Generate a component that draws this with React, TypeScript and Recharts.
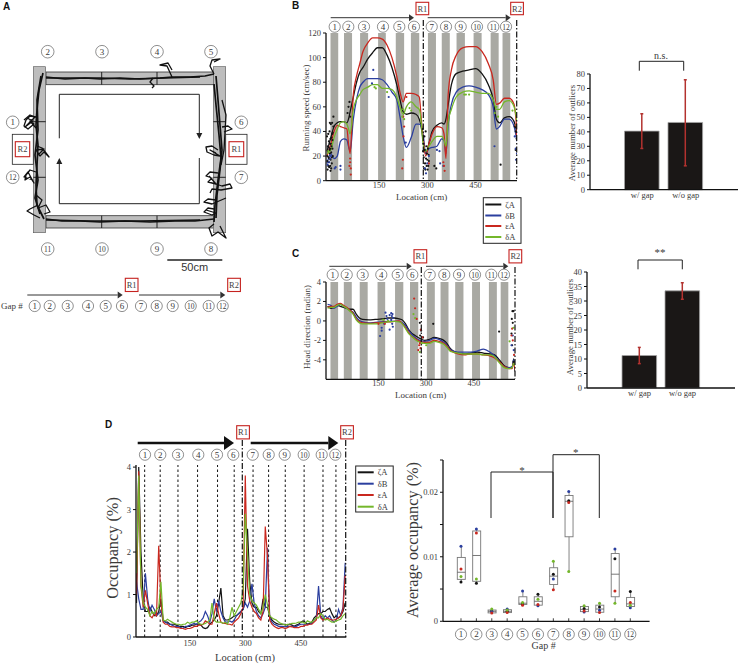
import { ComposedChart, BarChart, Bar, Line, Scatter, XAxis, YAxis, ReferenceArea, ReferenceLine, ErrorBar } from 'recharts'

const BLACK = '#141414'
const BLUE = '#2b3f9f'
const RED = '#c9281f'
const GREEN = '#74b72b'
const BAND = '#a9a9a3'
const SERIF = '"Liberation Serif", serif'
const TXT = '#3a3a3a'

// gray gap bands in cm
const bandStart = [-1, 41, 91, 147, 202, 249, 302, 345, 391, 444, 497, 534]
const bandEnd = [23, 66, 116, 171, 228, 275, 327, 370, 417, 469, 522, 558]
const locTicks = [150, 300, 450]

// panel B running speed
const speedLoc = [-12, 0, 10, 20, 30, 40, 50, 55, 60, 70, 80, 90, 100, 115, 130, 145, 160, 175, 190, 205, 215, 225, 235, 250, 265, 275, 282, 287, 295, 305, 315, 330, 345, 352, 358, 365, 375, 390, 410, 430, 450, 470, 490, 505, 515, 525, 540, 555, 570, 579]
const speedZeta = [24, 35, 44, 47, 48, 48, 47, 50, 56, 68, 80, 88, 92, 99, 104, 108, 108, 102, 92, 78, 66, 56, 54, 55, 54, 50, 42, 33, 22, 30, 40, 45, 47, 46, 50, 62, 78, 87, 89, 90, 91, 87, 78, 66, 50, 47, 51, 52, 48, 38]
const speedDeltaB = [14, 22, 18, 20, 32, 34, 33, 28, 24, 50, 66, 76, 80, 83, 83, 83, 82, 78, 72, 66, 52, 36, 27, 35, 46, 46, 44, 38, 22, 26, 27, 28, 34, 33, 22, 46, 62, 72, 76, 77, 76, 74, 70, 60, 42, 44, 50, 50, 44, 32]
const speedEps = [20, 30, 40, 45, 44, 43, 42, 30, 22, 70, 85, 95, 105, 112, 116, 116, 115, 110, 100, 85, 72, 64, 71, 71, 70, 68, 48, 35, 20, 30, 38, 44, 43, 38, 18, 70, 90, 102, 108, 109, 109, 105, 95, 82, 62, 63, 67, 67, 62, 40]
const speedDeltaA = [22, 25, 35, 42, 47, 48, 46, 42, 38, 58, 66, 70, 74, 76, 78, 78, 75, 75, 74, 68, 60, 54, 60, 64, 60, 58, 45, 30, 24, 28, 32, 36, 36, 33, 28, 48, 58, 68, 72, 73, 72, 71, 71, 66, 58, 58, 64, 65, 60, 48]

const speedOutBlack = [[-10, 9], [-8, 12], [-6, 15], [-5, 18], [-3, 22], [-2, 26], [0, 30], [2, 35], [4, 38], [-9, 28], [-6, 32], [-4, 40], [0, 46], [4, 47], [8, 52], [8, 44], [-2, 12], [1, 10], [3, 14], [6, 20], [-1, 8], [5, 26], [-11, 16], [-11, 20], [-9, 24], [-7, 19], [-7, 27], [-5, 11], [-4, 25], [-3, 30], [-1, 17], [-1, 34], [1, 23], [2, 28], [3, 19], [5, 33], [-12, 36], [-8, 38], [-3, 47], [6, 39], [55, 60], [52, 55], [58, 64], [60, 52], [290, 10], [293, 14], [296, 18], [299, 22], [302, 26], [288, 30], [291, 36], [295, 40], [298, 12], [301, 9], [305, 16], [286, 42], [289, 19], [292, 25], [294, 9], [297, 28], [300, 17], [303, 12], [287, 24], [304, 21], [322, 12], [328, 10], [575, 40], [578, 34], [572, 44], [528, 13], [575, 25]]
const speedOutBlue = [[-10, 13], [-5, 15], [-2, 18], [0, 20], [30, 12], [30, 9], [15, 11], [12, 10], [132, 90], [128, 79], [180, 68], [233, 31], [296, 6], [293, 10], [300, 14], [305, 20], [330, 25], [338, 24], [350, 12], [340, 14], [509, 28], [572, 36], [575, 26], [576, 17], [579, 22]]
const speedOutRed = [[60, 18], [60, 15], [58, 12], [62, 10], [62, 5], [225, 52], [228, 44], [226, 36], [224, 17], [222, 10], [235, 68], [305, 14], [352, 12], [350, 15], [354, 8], [575, 45], [578, 38]]
const speedOutGreen = [[-8, 24], [222, 52], [228, 50], [225, 58], [245, 59], [250, 57], [415, 70], [420, 70], [430, 70], [136, 76], [140, 75], [175, 72], [515, 60], [510, 55], [520, 52], [565, 57], [578, 45]]

// panel C head direction
const headLoc = [-10, 0, 10, 20, 30, 40, 50, 60, 70, 80, 90, 100, 120, 140, 160, 180, 200, 215, 225, 235, 245, 255, 265, 280, 295, 310, 325, 340, 355, 365, 375, 385, 400, 420, 440, 460, 480, 500, 515, 530, 545, 560, 570, 575, 579]
const headZeta = [1.5, 1.3, 1.4, 1.6, 1.5, 1.4, 1.3, 1.2, 1.2, 0.7, 0.3, 0.15, 0.1, 0.15, 0.2, 0.3, 0.3, 0.2, 0.1, -0.3, -0.9, -1.3, -1.5, -1.8, -2, -1.9, -1.7, -1.8, -2, -2.3, -2.8, -3.1, -3.3, -3.4, -3.3, -3.2, -3.3, -3.4, -3.5, -4, -4.6, -4.8, -4.8, -3.9, -5.2]
const headDeltaB = [1.7, 1.6, 1.3, 1.5, 1.7, 1.5, 1.3, 1.1, 0.9, 0.4, 0.05, -0.1, -0.2, -0.15, -0.1, -0.05, -0.05, -0.05, -0.2, -0.5, -1, -1.4, -1.7, -2, -2.1, -2, -1.8, -1.9, -2.2, -2.5, -2.9, -3.1, -3.2, -3.2, -3.2, -3.1, -2.9, -3.2, -3.6, -4.2, -4.7, -4.8, -4.7, -4, -4.6]
const headEps = [1.4, 1.5, 1.5, 1.7, 1.8, 1.6, 1.4, 1.1, 0.8, 0.2, -0.1, -0.2, -0.25, -0.2, -0.15, -0.1, -0.05, 0, -0.3, -0.7, -1.2, -1.6, -1.8, -2.1, -2.2, -2.2, -2, -2.1, -2.3, -2.6, -3, -3.2, -3.4, -3.5, -3.4, -3.4, -3.5, -3.6, -3.8, -4.2, -4.7, -4.9, -4.9, -4.2, -5]
const headDeltaA = [1.3, 1.4, 1.4, 1.6, 1.7, 1.5, 1.3, 1, 0.7, 0.1, -0.2, -0.3, -0.3, -0.3, -0.2, -0.1, -0.05, -0.1, -0.3, -0.8, -1.3, -1.6, -1.9, -2.2, -2.3, -2.3, -2.1, -2.2, -2.4, -2.7, -3.1, -3.2, -3.3, -3.4, -3.4, -3.4, -3.5, -3.5, -3.7, -4.3, -4.8, -4.9, -4.8, -4.3, -4.6]

const headOutBlack = [[280, -0.2], [322, -0.3], [284, -1], [281, -1.5], [290, -1.7], [529, -1.1], [571, 1], [574, 1], [569, 0.2], [572, -0.2], [568, -1.3], [570, -2.5], [575, -4.2]]
const headOutBlue = [[172, 0.85], [175, 0.5], [178, 0.2], [185, 0.6], [190, 0.8], [192, 0.5], [194, 0.7], [196, 0.3], [190, 0.1], [193, -0.3], [195, -0.6], [185, -0.9], [160, -0.7], [155, -1.55], [168, -0.3], [160, -1], [575, -3], [572, -1.5], [568, -2.5]]
const headOutRed = [[283, -0.9], [288, -1.7], [280, -2.3], [282, -2.8], [275, -3], [278, -2.5], [570, -0.8], [568, -1.5], [572, -2], [576, -3.5], [170, -0.3], [150, -0.3], [262, 2.3], [265, 1.3], [270, 0.2]]
const headOutGreen = [[260, 0.7], [265, 0.3], [280, -3.2], [286, -2.3], [300, -2.5], [562, -2.1], [574, -0.7], [165, 0.1], [180, 0]]

// panel D occupancy, one value every 6 cm from 6 cm
const occBlack = [
  0.8, 4.0, 2.0, 0.9, 0.6, 0.6, 0.7, 0.6, 0.5, 0.5,
  0.6, 0.9, 0.4, 0.35, 0.35, 0.3, 0.3, 0.3, 0.28, 0.25,
  0.25, 0.25, 0.22, 0.25, 0.25, 0.28, 0.28, 0.3, 0.3, 0.28,
  0.22, 0.2, 0.22, 0.3, 0.35, 0.4, 0.5, 0.8, 1.15, 0.5,
  0.4, 0.4, 0.42, 0.45, 0.5, 0.5, 0.55, 0.6, 0.65, 0.9,
  2.55, 1.3, 0.8, 0.7, 0.7, 0.6, 0.55, 0.9, 0.7, 0.7,
  0.5, 0.4, 0.35, 0.32, 0.3, 0.3, 0.3, 0.3, 0.28, 0.3,
  0.28, 0.25, 0.28, 0.3, 0.35, 0.38, 0.35, 0.3, 0.32, 0.35,
  0.45, 0.5, 0.55, 0.55, 0.6, 0.6, 0.65, 0.68, 0.55, 0.45,
  0.5, 0.45, 0.5, 0.6, 0.8,
]
const occDeltaB = [
  1.3, 0.9, 0.65, 0.65, 1.5, 0.9, 0.6, 0.75, 0.65, 0.5,
  0.55, 0.6, 0.38, 0.35, 0.32, 0.3, 0.28, 0.25, 0.25, 0.25,
  0.22, 0.2, 0.25, 0.25, 0.28, 0.3, 0.32, 0.3, 0.35, 0.38,
  0.45, 0.6, 0.5, 0.35, 0.55, 0.9, 0.6, 0.85, 0.6, 0.45,
  0.35, 0.35, 0.38, 0.35, 0.4, 0.5, 0.55, 0.6, 0.65, 0.8,
  0.7, 0.85, 1.25, 0.8, 0.6, 0.5, 0.45, 0.55, 0.7, 2.1,
  0.45, 0.35, 0.3, 0.28, 0.25, 0.25, 0.25, 0.24, 0.25, 0.25,
  0.25, 0.25, 0.25, 0.28, 0.3, 0.3, 0.3, 0.3, 0.3, 0.32,
  0.4, 0.45, 1.2, 0.5, 0.42, 0.5, 0.45, 0.5, 0.4, 0.35,
  0.4, 0.65, 0.5, 0.7, 1.75,
]
const occEps = [
  1.0, 3.9, 1.2, 0.7, 1.1, 0.8, 0.5, 0.45, 0.55, 0.5,
  2.15, 0.8, 0.35, 0.3, 0.3, 0.25, 0.24, 0.24, 0.22, 0.22,
  0.2, 0.2, 0.18, 0.2, 0.2, 0.22, 0.25, 0.25, 0.28, 0.28,
  0.3, 0.38, 0.35, 0.3, 0.3, 0.55, 0.8, 0.55, 0.35, 0.32,
  0.32, 0.3, 0.3, 0.28, 0.35, 0.4, 0.45, 0.55, 0.7, 3.8,
  1.2, 0.85, 0.7, 0.6, 0.55, 0.45, 0.4, 0.6, 2.6, 1.9,
  0.4, 0.3, 0.25, 0.22, 0.2, 0.22, 0.22, 0.2, 0.22, 0.25,
  0.24, 0.22, 0.22, 0.22, 0.25, 0.25, 0.28, 0.28, 0.3, 0.3,
  0.35, 0.4, 0.75, 0.45, 0.4, 0.42, 0.45, 0.42, 0.4, 0.4,
  0.42, 0.45, 0.5, 0.65, 1.45,
]
const occDeltaA = [
  1.5, 3.8, 1.25, 0.8, 0.7, 0.65, 0.5, 0.6, 0.55, 0.65,
  0.7, 1.3, 0.4, 0.38, 0.42, 0.38, 0.35, 0.32, 0.3, 0.3,
  0.28, 0.3, 0.3, 0.35, 0.32, 0.35, 0.35, 0.38, 0.32, 0.3,
  0.3, 0.32, 0.35, 0.4, 0.8, 0.4, 0.35, 0.35, 0.35, 0.32,
  0.35, 0.3, 0.45, 0.7, 0.5, 0.6, 0.7, 0.8, 1.1, 2.9,
  2.0, 1.0, 0.85, 0.8, 0.75, 0.65, 0.55, 0.7, 1.0, 0.75,
  0.5, 0.45, 0.42, 0.4, 0.35, 0.32, 0.3, 0.28, 0.3, 0.3,
  0.32, 0.32, 0.33, 0.35, 0.35, 0.35, 0.32, 0.38, 0.35, 0.35,
  0.4, 0.45, 0.45, 0.55, 0.5, 0.4, 0.42, 0.38, 0.35, 0.35,
  0.38, 0.4, 0.42, 0.5, 0.55,
]
const occLines = [28, 70, 118, 171, 225, 270, 321, 363, 408, 459, 510, 545]

// outlier bars
const barLabels = ['w/ gap', 'w/o gap']
const speedBars = [40.5, 46.5]
const speedErrLow = [12, 30]
const speedErrHigh = [12, 29.5]
const headBars = [11.2, 33.5]
const headErrLow = [2.8, 2.9]
const headErrHigh = [2.8, 2.8]

// average occupancy per gap
const gaps = ['1', '2', '3', '4', '5', '6', '7', '8', '9', '10', '11', '12']
const avgZeta = [0.0061, 0.0059, 0.0016, 0.00155, 0.0027, 0.0042, 0.0073, 0.0187, 0.002, 0.0022, 0.0097, 0.0046]
const avgDeltaB = [0.01165, 0.0143, 0.0015, 0.0019, 0.0047, 0.0024, 0.00655, 0.0201, 0.00145, 0.0017, 0.0112, 0.0021]
const avgEps = [0.0081, 0.0137, 0.0013, 0.00135, 0.0025, 0.0026, 0.0049, 0.0184, 0.0016, 0.00135, 0.0047, 0.0029]
const avgDeltaA = [0.00696, 0.00655, 0.0019, 0.00175, 0.0029, 0.0034, 0.0093, 0.0077, 0.0024, 0.0028, 0.0028, 0.0025]
const boxLow = [0.0065, 0.0062, 0.0013, 0.00135, 0.0026, 0.0025, 0.0057, 0.0131, 0.0015, 0.0014, 0.0038, 0.0023]
const boxHigh = [0.0099, 0.014, 0.00175, 0.0018, 0.0038, 0.0038, 0.0083, 0.0195, 0.0023, 0.0025, 0.0105, 0.0037]
const boxMid = [0.0076, 0.0102, 0.00155, 0.00155, 0.0028, 0.0031, 0.007, 0.0186, 0.00185, 0.0019, 0.0073, 0.0027]

const series = [
  { key: 'zeta', label: 'ζA', color: BLACK },
  { key: 'deltaB', label: 'δB', color: BLUE },
  { key: 'eps', label: 'εA', color: RED },
  { key: 'deltaA', label: 'δA', color: GREEN },
]

const toRows = (loc: number[], a: number[], b: number[], c: number[], d: number[]) =>
  loc.map((l, i) => ({ loc: l, zeta: a[i], deltaB: b[i], eps: c[i], deltaA: d[i] }))
const toPts = (pts: number[][]) => pts.map(([loc, y]) => ({ loc, y }))

const speedRows = toRows(speedLoc, speedZeta, speedDeltaB, speedEps, speedDeltaA)
const headRows = toRows(headLoc, headZeta, headDeltaB, headEps, headDeltaA)
const occRows = occBlack.map((_, i) => ({ loc: 6 + i * 6, zeta: occBlack[i], deltaB: occDeltaB[i], eps: occEps[i], deltaA: occDeltaA[i] }))
const speedBarRows = barLabels.map((name, i) => ({ name, value: speedBars[i], err: [speedErrLow[i], speedErrHigh[i]] }))
const headBarRows = barLabels.map((name, i) => ({ name, value: headBars[i], err: [headErrLow[i], headErrHigh[i]] }))
const boxRows = gaps.map((gap, i) => ({
  gap,
  zeta: avgZeta[i],
  deltaB: avgDeltaB[i],
  eps: avgEps[i],
  deltaA: avgDeltaA[i],
  low: boxLow[i],
  high: boxHigh[i],
  mid: boxMid[i],
  min: Math.min(avgZeta[i], avgDeltaB[i], avgEps[i], avgDeltaA[i]),
  max: Math.max(avgZeta[i], avgDeltaB[i], avgEps[i], avgDeltaA[i]),
}))

const tickStyle = { fontSize: 8.5, fontFamily: SERIF, fill: TXT }
const axisLine = { stroke: '#111', strokeWidth: 1.3 }

const smallDot = (color: string) => (p: any) => <circle cx={p.cx} cy={p.cy} r={1.1} fill={color} />

function Place({ left, top, children }: any) {
  return <div style={{ position: 'absolute', left, top }}>{children}</div>
}

function LocationChart({ rows, outliers, yDomain, yTicks, width, height }: any) {
  return (
    <ComposedChart width={width} height={height} data={rows} margin={{ top: 10, right: 2, bottom: 0, left: 0 }}>
      <XAxis type="number" dataKey="loc" domain={[-15, 579]} ticks={locTicks} allowDataOverflow height={20} tick={tickStyle} tickLine={false} tickSize={0} tickMargin={1} axisLine={axisLine} />
      <YAxis type="number" dataKey="y" domain={yDomain} ticks={yTicks} width={30} allowDataOverflow tick={tickStyle} tickSize={3} tickMargin={2} tickLine={{ stroke: '#111' }} axisLine={axisLine} interval={0} />
      {bandStart.map((s, i) => (
        <ReferenceArea key={i} x1={s} x2={bandEnd[i]} fill={BAND} fillOpacity={1} stroke="none" />
      ))}
      {series.map(s => (
        <Line key={s.key} dataKey={s.key} stroke={s.color} strokeWidth={1.3} dot={false} type="monotone" isAnimationActive={false} />
      ))}
      {series.map((s, i) => (
        <Scatter key={s.key} data={toPts(outliers[i])} fill={s.color} shape={smallDot(s.color)} isAnimationActive={false} />
      ))}
    </ComposedChart>
  )
}

function OutlierBars({ rows, domain, ticks, pad, height }: any) {
  return (
    <BarChart width={180} height={height} data={rows} margin={{ top: 10, right: 2, bottom: 0, left: 0 }}>
      <XAxis dataKey="name" height={20} padding={{ left: pad, right: pad }} tick={tickStyle} tickLine={false} tickSize={0} tickMargin={2} axisLine={axisLine} />
      <YAxis type="number" domain={domain} ticks={ticks} width={30} interval={0} tick={tickStyle} tickSize={3} tickMargin={2} tickLine={{ stroke: '#111' }} axisLine={axisLine} />
      <Bar dataKey="value" fill="#1a1716" stroke="#a5a5a5" strokeWidth={0.8} barSize={34.6} isAnimationActive={false}>
        <ErrorBar dataKey="err" direction="y" width={1.5} stroke="#b3322f" strokeWidth={1.5} />
      </Bar>
    </BarChart>
  )
}

function BoxShape(p: any) {
  const d = p.payload
  const perUnit = p.height / (d.high - d.low)
  const yAt = (v: number) => p.y + (d.high - v) * perUnit
  const cx = p.x + p.width / 2
  return (
    <g>
      <line x1={cx} x2={cx} y1={yAt(d.max)} y2={yAt(d.min)} stroke="#666" strokeWidth={0.8} />
      <rect x={p.x} y={p.y} width={p.width} height={p.height} fill="#fff" stroke="#777" strokeWidth={0.9} />
      <line x1={p.x} x2={p.x + p.width} y1={yAt(d.mid)} y2={yAt(d.mid)} stroke="#555" strokeWidth={0.8} />
    </g>
  )
}

function GapTick({ x, y, payload }: any) {
  return (
    <g>
      <line x1={x} x2={x} y1={y - 3} y2={y} stroke="#111" strokeWidth={0.8} />
      <Circled x={x} y={y + 13} n={payload.value} />
    </g>
  )
}

function Circled({ x, y, n, r = 5.6 }: any) {
  return (
    <g>
      <circle cx={x} cy={y} r={r} fill="#fff" stroke="#444" strokeWidth={0.6} />
      <text x={x} y={y + 3} textAnchor="middle" fontSize={n > 9 ? 7.5 : 9} fontFamily={SERIF} fill={TXT}>{n}</text>
    </g>
  )
}

function RedBox({ x, y, w = 12.7, h = 13.2, label }: any) {
  return (
    <g>
      <rect x={x} y={y} width={w} height={h} fill="#fff" stroke="#c5221f" strokeWidth={1.1} />
      <text x={x + w / 2} y={y + h / 2 + 3} textAnchor="middle" fontSize={8.5} fontFamily={SERIF} fill="#444">{label}</text>
    </g>
  )
}

function Arrow({ x1, x2, y, sw = 1, head = 5, color = '#333' }: any) {
  return (
    <g>
      <line x1={x1} x2={x2 - head} y1={y} y2={y} stroke={color} strokeWidth={sw} />
      <polygon points={`${x2 - head},${y - head * 0.7} ${x2},${y} ${x2 - head},${y + head * 0.7}`} fill={color} />
    </g>
  )
}

function Sideways({ x, y, size, children }: any) {
  return (
    <text x={x} y={y} textAnchor="middle" fontSize={size} fontFamily={SERIF} fill={TXT} transform={`rotate(-90 ${x} ${y})`}>
      {children}
    </text>
  )
}

function Caption({ x, y, size = 9, children }: any) {
  return <text x={x} y={y} textAnchor="middle" fontSize={size} fontFamily={SERIF} fill={TXT}>{children}</text>
}

function Letter({ x, y, children }: any) {
  return <text x={x} y={y} fontSize={10} fontWeight="bold" fontFamily='"Liberation Sans", sans-serif' fill="#111">{children}</text>
}

function LegendBox({ x, y, w, h, rows }: any) {
  return (
    <g>
      <rect x={x} y={y} width={w} height={h} fill="#fff" stroke="#222" strokeWidth={1} />
      {series.map((s, i) => (
        <g key={s.key}>
          <line x1={x + 2} x2={x + 18} y1={rows[i]} y2={rows[i]} stroke={s.color} strokeWidth={2} />
          <text x={x + 22} y={rows[i] + 3} fontSize={8.5} fontFamily={SERIF} fill={TXT}>{s.label}</text>
        </g>
      ))}
    </g>
  )
}

function Bracket({ x1, x2, top, bottom, bottom2 }: any) {
  return (
    <path d={`M${x1},${bottom} V${top} H${x2} V${bottom2 ?? bottom}`} fill="none" stroke="#222" strokeWidth={1} />
  )
}

// corridor ticks and rat trajectories in panel A
const trajectories = [
  'M46,77 L65,79 L85,78 L100,79 L120,78 L140,79 L160,78 L172,77 L190,77 L205,76 L214,74',
  'M46,78 L70,78 L100,78 L130,79 L165,78 L200,77',
  'M46,219 L62,221 L80,221 L100,222 L125,221 L150,222 L175,221 L195,221 L214,219',
  'M46,220 L90,221 L140,221 L200,220',
  'M43,73 L39,90 L37,110 L36,125 L38,145 L37,165 L36,185 L37,205 L44,219',
  'M41,76 L37,100 L38,130 L35,155 L38,180 L35,198 L40,214',
  'M216,76 L218,100 L220,125 L222,150 L220,170 L217,195 L216,218',
  'M214,84 L216,105 L219,135 L221,158 L218,180 L215,205 L214,222',
  'M36,117 L30,116 L26,120 L24,126 L28,129 L34,124 L30,121 L36,128',
  'M24,120 L30,115 L35,117 L30,122 L25,127 L33,121 L27,118',
  'M37,146 L42,148 L46,153 L49,157 L44,152 L40,156 L36,150 L44,149 L38,155',
  'M36,172 L30,170 L26,175 L25,180 L30,177 L34,183 L28,172 L24,177 L33,180',
  'M36,195 L42,200 L38,208 L46,205 L50,212 L44,214',
  'M38,205 L30,209 L27,211 L34,215 L40,218',
  'M222,127 L228,126 L232,129 L224,132',
  'M218,150 L212,146 L206,147 L207,152 L214,155 L220,156 L210,150 L216,153',
  'M218,173 L210,172 L206,176 L212,178 L208,182 L216,184 L209,176',
  'M216,184 L222,186 L230,184 L232,188 L221,190 L212,189 L210,193',
  'M216,200 L208,199 L204,202 L212,204 L226,198',
  'M214,209 L208,208 L204,212 L212,215 L216,213 L206,210',
  'M214,224 L209,228 L212,236 L218,232 L226,238 L220,226',
  'M214,74 L210,66 L212,60 L220,59 L214,62',
  'M172,77 L167,66 L160,65 L168,63 L172,70',
  'M153,78 L150,82 L154,86 L152,88',
  'M222,100 L226,115 L224,150 L221,165',
]
const tickXs = [101.7, 157]
const tickYs = [121.7, 177.3]
const mazeTop = [[2, 47.7], [3, 102], [4, 157], [5, 211]]
const mazeBottom = [[11, 47.7], [10, 102], [9, 157], [8, 211]]
const mazeLeft = [[1, 122.3], [12, 177.3]]
const mazeRight = [[6, 122.3], [7, 177.3]]
const gapRowX = [34.7, 49.7, 67.7, 88, 105.7, 122, 141, 156.7, 172.7, 190.7, 208.7, 222.7]
const speedRowX = [334.7, 348.3, 364, 383, 399.3, 414, 431.7, 446, 460.7, 477, 493.3, 506]
const headRowX = [332.7, 346.7, 362.7, 381.3, 397.7, 412.3, 429.7, 444.3, 459, 475, 491.3, 504]
const occRowX = [145, 160.3, 178, 198.3, 217, 233.3, 252.7, 268.7, 284.7, 303.7, 321.7, 335.3]

function Overlay() {
  return (
    <svg width={739} height={664} style={{ position: 'absolute', left: 0, top: 0, pointerEvents: 'none' }}>
      <Letter x={3} y={10}>A</Letter>
      <Letter x={292} y={9}>B</Letter>
      <Letter x={292} y={257}>C</Letter>
      <Letter x={105} y={428}>D</Letter>

      {/* panel A maze */}
      <rect x={46} y={72} width={168} height={12.7} fill="#bdbdbd" stroke="#333" strokeWidth={0.8} />
      <rect x={46} y={215.7} width={168} height={12.3} fill="#bdbdbd" stroke="#333" strokeWidth={0.8} />
      <rect x={33.3} y={66.7} width={12.4} height={166} fill="#bdbdbd" stroke="#555" strokeWidth={0.6} />
      <rect x={213.3} y={66.7} width={12.4} height={166} fill="#bdbdbd" stroke="#555" strokeWidth={0.6} />
      {tickXs.map(x => (
        <g key={x}>
          <line x1={x} x2={x} y1={72} y2={84.7} stroke="#222" strokeWidth={1} />
          <line x1={x} x2={x} y1={215.7} y2={228} stroke="#222" strokeWidth={1} />
        </g>
      ))}
      {tickYs.map(y => (
        <g key={y}>
          <line x1={33.3} x2={45.7} y1={y} y2={y} stroke="#222" strokeWidth={1} />
          <line x1={213.3} x2={225.7} y1={y} y2={y} stroke="#222" strokeWidth={1} />
        </g>
      ))}
      {trajectories.map((d, i) => (
        <path key={i} d={d} fill="none" stroke="#111" strokeWidth={i < 8 ? 1.7 : 1.3} strokeLinejoin="round" />
      ))}
      <rect x={12.3} y={134.3} width={21} height={30} fill="#fff" stroke="#222" strokeWidth={0.8} />
      <rect x={225.7} y={134.3} width={21.3} height={30} fill="#fff" stroke="#222" strokeWidth={0.8} />
      <RedBox x={15.3} y={141.7} w={14.4} h={15} label="R2" />
      <RedBox x={229} y={141.7} w={14.7} h={15} label="R1" />
      <path d="M59.3,138.3 V94.3 H199.3 V134" fill="none" stroke="#222" strokeWidth={1} />
      <polygon points="196.3,133 202.3,133 199.3,139" fill="#222" />
      <path d="M199.3,158 V203.7 H59.3 V163" fill="none" stroke="#222" strokeWidth={1} />
      <polygon points="56.3,164 62.3,164 59.3,158" fill="#222" />
      {mazeTop.map(([n, x]) => <Circled key={n} x={x} y={51.7} n={n} r={6.3} />)}
      {mazeBottom.map(([n, x]) => <Circled key={n} x={x} y={249} n={n} r={6.3} />)}
      {mazeLeft.map(([n, y]) => <Circled key={n} x={12.7} y={y} n={n} r={6.3} />)}
      {mazeRight.map(([n, y]) => <Circled key={n} x={241.3} y={y} n={n} r={6.3} />)}
      <line x1={167.3} x2={222.3} y1={260} y2={260} stroke="#222" strokeWidth={1.4} />
      <text x={194.7} y={271} textAnchor="middle" fontSize={11} fontFamily='"Liberation Sans", sans-serif' fill="#333">50cm</text>
      <Arrow x1={27.3} x2={122.7} y={295} />
      <Arrow x1={139} x2={225.3} y={295} />
      <RedBox x={125.3} y={278.3} label="R1" />
      <RedBox x={227.7} y={278.3} label="R2" />
      <text x={1} y={309} fontSize={9} fontFamily={SERIF} fill={TXT}>Gap #</text>
      {gapRowX.map((x, i) => <Circled key={i} x={x} y={306} n={i + 1} />)}

      {/* panel B header */}
      <Arrow x1={330.7} x2={414} y={17.7} />
      <Arrow x1={427.7} x2={510.7} y={17.7} />
      <RedBox x={416} y={2.3} w={12.7} h={12.4} label="R1" />
      <RedBox x={510.7} y={2.3} w={12.7} h={12.4} label="R2" />
      {speedRowX.map((x, i) => <Circled key={i} x={x} y={26.7} n={i + 1} />)}
      <line x1={423.3} x2={423.3} y1={20} y2={181} stroke="#111" strokeWidth={1.2} strokeDasharray="6 2 1.5 2" />
      <line x1={516.7} x2={516.7} y1={20} y2={181} stroke="#111" strokeWidth={1.2} strokeDasharray="6 2 1.5 2" />
      <Sideways x={309} y={108} size={9}>Running speed (cm/sec)</Sideways>
      <Caption x={421.7} y={200}>Location (cm)</Caption>
      <LegendBox x={483.3} y={197.7} w={37.7} h={45.6} rows={[204.5, 215.5, 226, 237]} />

      {/* panel C header */}
      <Arrow x1={329.3} x2={411.7} y={266.3} />
      <Arrow x1={426} x2={508.3} y={266.3} />
      <RedBox x={414} y={249.7} label="R1" />
      <RedBox x={509} y={249.7} label="R2" />
      {headRowX.map((x, i) => <Circled key={i} x={x} y={274.7} n={i + 1} />)}
      <line x1={421.3} x2={421.3} y1={267} y2={379} stroke="#111" strokeWidth={1.2} strokeDasharray="6 2 1.5 2" />
      <line x1={515} x2={515} y1={267} y2={379} stroke="#111" strokeWidth={1.2} strokeDasharray="6 2 1.5 2" />
      <Sideways x={310} y={327} size={9}>Head direction (radian)</Sideways>
      <Caption x={420.7} y={398}>Location (cm)</Caption>

      {/* outlier bars annotations */}
      <Sideways x={575} y={133} size={8.8}>Average number of outliers</Sideways>
      <Caption x={661} y={59} size={10}>n.s.</Caption>
      <Bracket x1={639.3} x2={683.7} top={61.3} bottom={70.7} />
      <Sideways x={572.5} y={327} size={8.8}>Average number of outliers</Sideways>
      <Caption x={660} y={256} size={11}>**</Caption>
      <Bracket x1={638} x2={682.3} top={260} bottom={269.3} />

      {/* panel D left header */}
      <Arrow x1={137.7} x2={234} y={443} sw={2.6} head={10} color="#111" />
      <Arrow x1={250.7} x2={338.3} y={443} sw={2.6} head={10} color="#111" />
      <RedBox x={236.7} y={425.7} label="R1" />
      <RedBox x={340.7} y={425.7} label="R2" />
      {occRowX.map((x, i) => <Circled key={i} x={x} y={454.7} n={i + 1} />)}
      <line x1={242.3} x2={242.3} y1={440} y2={637} stroke="#111" strokeWidth={1.2} strokeDasharray="6 2 1.5 2" />
      <line x1={345.7} x2={345.7} y1={440} y2={637} stroke="#111" strokeWidth={1.2} strokeDasharray="6 2 1.5 2" />
      <Sideways x={118} y={548} size={16.3}>Occupancy (%)</Sideways>
      <Caption x={245} y={661} size={10.5}>Location (cm)</Caption>
      <LegendBox x={355.7} y={466} w={37.5} h={46} rows={[472.3, 483.7, 495, 506.7]} />

      {/* panel D right annotations */}
      <Sideways x={418} y={540} size={16.3}>Average occupancy (%)</Sideways>
      <Caption x={543.7} y={649} size={10}>Gap #</Caption>
      <Bracket x1={491} x2={553} top={472} bottom={518} />
      <Bracket x1={553} x2={599.3} top={454.7} bottom={472} bottom2={518} />
      <line x1={553} x2={553} y1={472} y2={518} stroke="#222" strokeWidth={1} />
      <Caption x={522} y={474} size={11}>*</Caption>
      <Caption x={575.7} y={456} size={11}>*</Caption>
    </svg>
  )
}

export default function App() {
  return (
    <div style={{ position: 'absolute', left: 0, top: 0, width: 739, height: 664, background: '#fff', overflow: 'hidden', opacity: 0.999 }}>
      <Place left={296} top={23.3}>
        <LocationChart
          rows={speedRows}
          outliers={[speedOutBlack, speedOutBlue, speedOutRed, speedOutGreen]}
          yDomain={[0, 120]}
          yTicks={[0, 20, 40, 60, 80, 100, 120]}
          width={223}
          height={177.7}
        />
      </Place>
      <Place left={296} top={271.7}>
        <LocationChart
          rows={headRows}
          outliers={[headOutBlack, headOutBlue, headOutRed, headOutGreen]}
          yDomain={[-6, 4]}
          yTicks={[-4, -2, 0, 2, 4]}
          width={221}
          height={127.3}
        />
      </Place>
      <Place left={560} top={64}>
        <OutlierBars rows={speedBarRows} domain={[0, 80]} ticks={[0, 10, 20, 30, 40, 50, 60, 70, 80]} pad={30.5} height={145.7} />
      </Place>
      <Place left={557.3} top={262.3}>
        <OutlierBars rows={headBarRows} domain={[0, 40]} ticks={[0, 5, 10, 15, 20, 25, 30, 35, 40]} pad={31} height={146} />
      </Place>

      <Place left={105.7} top={455}>
        <ComposedChart width={242.3} height={202} data={occRows} margin={{ top: 10, right: 2, bottom: 0, left: 0 }}>
          <XAxis type="number" dataKey="loc" domain={[4.6, 573]} ticks={locTicks} allowDataOverflow height={20} tick={tickStyle} tickLine={false} tickSize={0} tickMargin={3} axisLine={axisLine} />
          <YAxis type="number" domain={[0, 4.05]} ticks={[0, 1, 2, 3, 4]} width={30} tick={tickStyle} tickSize={3} tickMargin={2} tickLine={{ stroke: '#111' }} axisLine={axisLine} />
          {occLines.map(v => (
            <ReferenceLine key={v} x={v} stroke="#111" strokeWidth={1} strokeDasharray="2.5 2.5" />
          ))}
          {series.map(s => (
            <Line key={s.key} dataKey={s.key} stroke={s.color} strokeWidth={1.2} dot={false} isAnimationActive={false} />
          ))}
        </ComposedChart>
      </Place>

      <Place left={412.7} top={450}>
        <ComposedChart width={238.6} height={191.3} data={boxRows} margin={{ top: 10, right: 2, bottom: 0, left: 0 }}>
          <XAxis dataKey="gap" height={20} interval={0} padding={{ left: 10.3, right: 11.6 }} tick={GapTick} tickSize={0} tickMargin={0} tickLine={false} axisLine={axisLine} />
          <YAxis type="number" domain={[0, 0.025]} ticks={[0, 0.005, 0.01, 0.015, 0.02, 0.025]} width={30} interval={0} tick={tickStyle} tickSize={3} tickMargin={2} tickLine={{ stroke: '#111' }} axisLine={axisLine} tickFormatter={(v: number) => (v === 0 ? '0' : v === 0.01 || v === 0.02 ? String(v) : '')} />
          <Bar dataKey={(d: any) => [d.low, d.high]} barSize={8} shape={BoxShape} isAnimationActive={false} />
          {series.map(s => (
            <Line key={s.key} dataKey={s.key} stroke="none" dot={{ r: 1.5, fill: s.color, stroke: 'none' }} isAnimationActive={false} />
          ))}
        </ComposedChart>
      </Place>

      <Overlay />
    </div>
  )
}
